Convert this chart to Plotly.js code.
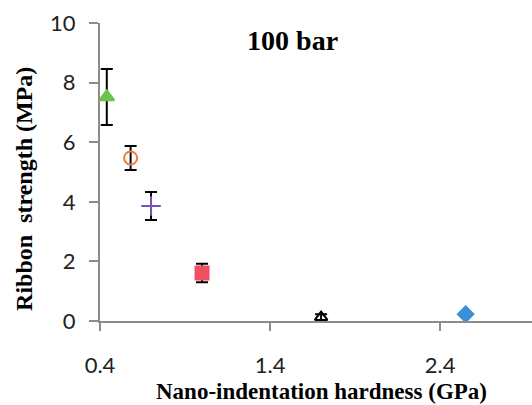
<!DOCTYPE html>
<html><head><meta charset="utf-8">
<script src="https://cdn.plot.ly/plotly-3.0.1.min.js"></script>
<style>html,body{margin:0;padding:0;background:#fff}#c{width:532px;height:405px}</style>
</head><body><div id="c"></div>
<script>
const hardness = [0.44, 0.58, 0.70, 1.00, 1.70, 2.55];
const strength = [7.52, 5.47, 3.86, 1.61, 0.13, 0.23];
const errors   = [0.94, 0.40, 0.47, 0.31, 0.10, 0.00];
const symbols  = ['triangle-up', 'circle-open', 'cross-thin-open', 'square', 'triangle-up-open', 'diamond'];
const colors   = ['#6cc24a', '#ed7d31', '#7d4fb8', '#f0505f', '#000000', '#3b8fd8'];
const sizes    = [13, 13, 14, 13, 11, 12];
const xTicks = [0.4, 1.4, 2.4];
const yTicks = [0, 2, 4, 6, 8, 10];
const xTitle = 'Nano-indentation hardness (GPa)';
const yTitle = 'Ribbon  strength (MPa)';
const chartTitle = '100 bar';

const traces = hardness.map((x, i) => ({
  type: 'scatter', mode: 'markers',
  x: [x], y: [strength[i]],
  error_y: errors[i] > 0 ? {type: 'data', array: [errors[i]], visible: true, color: '#000', thickness: 2, width: 6} : {visible: false},
  marker: {symbol: symbols[i], color: colors[i], size: sizes[i], line: {color: colors[i], width: 2}},
  showlegend: false
}));

const serif = {family: 'Liberation Serif', color: '#000', weight: 'bold'};
const layout = {
  width: 532, height: 405,
  margin: {l: 100, r: 0, t: 23, b: 84},
  paper_bgcolor: '#fff', plot_bgcolor: '#fff',
  title: {text: chartTitle, font: Object.assign({size: 28}, serif), x: 0.55, xanchor: 'center', y: 0.901, yanchor: 'middle'},
  xaxis: {
    range: [0.4, 2.94], tickvals: xTicks, ticktext: xTicks.map(v => v.toFixed(1)),
    showgrid: false, zeroline: false, showline: true, linecolor: '#8c8c8c', linewidth: 2,
    ticks: 'outside', ticklen: 8, tickcolor: '#8c8c8c', tickwidth: 2, ticklabelstandoff: 16,
    tickfont: {family: 'Lato', size: 22, color: '#222'}
  },
  yaxis: {
    range: [0, 10], tickvals: yTicks,
    showgrid: false, zeroline: false, showline: true, linecolor: '#8c8c8c', linewidth: 2,
    ticks: 'outside', ticklen: 9, tickcolor: '#8c8c8c', tickwidth: 2, ticklabelstandoff: 9,
    tickfont: {family: 'Lato', size: 22, color: '#222'}
  },
  annotations: [
    {text: xTitle, xref: 'paper', yref: 'paper', x: 0.5116, y: -0.236, xanchor: 'center', yanchor: 'middle', showarrow: false, font: Object.assign({size: 23}, serif)},
    {text: yTitle, xref: 'paper', yref: 'paper', x: -0.176, y: 0.443, xanchor: 'center', yanchor: 'middle', textangle: -90, showarrow: false, font: Object.assign({size: 24}, serif)}
  ]
};
Plotly.newPlot('c', traces, layout, {displayModeBar: false, staticPlot: true});
</script></body></html>
